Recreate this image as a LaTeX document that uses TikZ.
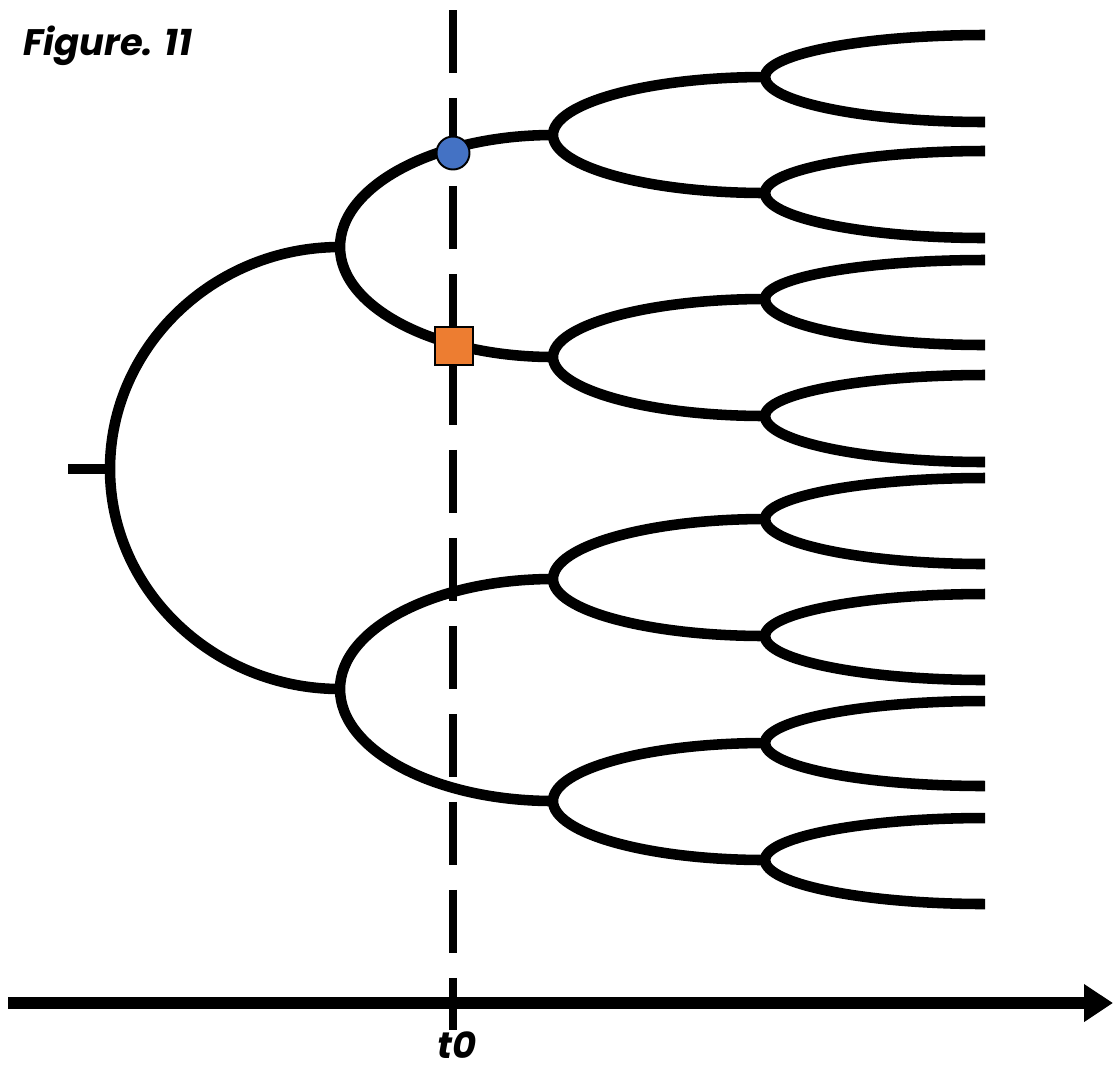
\documentclass[tikz,border=0pt]{standalone}
\usepackage{fontspec}
\setmainfont{Poppins}
\usetikzlibrary{calc,arrows.meta}
\definecolor{markblue}{HTML}{4472C4}
\definecolor{markorange}{HTML}{ED7D31}

\begin{document}
\begin{tikzpicture}[
    x=0.02cm, y=-0.02cm,
    branch/.style={line width=6pt},
    split/.style={to path={.. controls ($(\tikztostart)!0.55!(\tikztostart|-\tikztotarget)$) and ($(\tikztotarget)!0.55!(\tikztostart|-\tikztotarget)$) .. (\tikztotarget)}},
    merge/.style={to path={.. controls ($(\tikztostart)!0.55!(\tikztotarget|-\tikztostart)$) and ($(\tikztotarget)!0.55!(\tikztotarget|-\tikztostart)$) .. (\tikztotarget)}},
    cutline/.style={line width=4.6pt, dash pattern=on 1.26cm off 0.5cm},
    timeline/.style={line width=6.8pt, -{Triangle[length=0.58cm,width=0.72cm]}},
    tlabel/.style={font=\bfseries\itshape\fontsize{21}{24}\selectfont, inner sep=0pt},
    marker/.style={draw=black, line width=1.1pt, inner sep=0pt},
]
\useasboundingbox (0,0) rectangle (1114,1073);
% junctions of the tree
\coordinate (stub) at (68,469);
\coordinate (r) at (110,469);
\coordinate (a) at (340,247);
\coordinate (b) at (340,689);
\foreach \n/\y in {aa/135, ab/357, ba/579, bb/801}
  \coordinate (\n) at (553,\y);
\foreach \n/\y in {aaa/77, aab/193, aba/299, abb/416, baa/519, bab/636, bba/743, bbb/860}
  \coordinate (\n) at (765,\y);
\foreach \n/\y in {aaaa/35, aaab/122, aaba/151, aabb/238, abaa/260, abab/345, abba/375, abbb/462,
                   baaa/478, baab/564, baba/594, babb/680, bbaa/701, bbab/786, bbba/818, bbbb/904}
  \coordinate (\n) at (985,\y);
% time axis and cut at t0
\coordinate (ttop) at (453,10);
\coordinate (tbot) at (453,1030);
\coordinate (axl) at (8,1003);
\coordinate (axr) at (1113,1003);
\draw[cutline] (ttop) -- (tbot);
\draw[timeline] (axl) -- (axr);
% branches
\draw[branch] (stub) -- (r);
\draw[branch] (a) to[merge] (r) to[split] (b);
\foreach \p in {a, b, aa, ab, ba, bb, aaa, aab, aba, abb, baa, bab, bba, bbb}
  \draw[branch] (\p a) to[merge] (\p) to[split] (\p b);
% states at t0
\node[marker, circle, fill=markblue, minimum size=0.66cm] (up) at (453,153) {};
\node[marker, rectangle, fill=markorange, minimum size=0.76cm] (down) at (454,346) {};
\node[tlabel] (tzero) at (457,1045) {t0};
\node[tlabel, anchor=west] (title) at (23,46) {Figure. 11};
\end{tikzpicture}
\end{document}
